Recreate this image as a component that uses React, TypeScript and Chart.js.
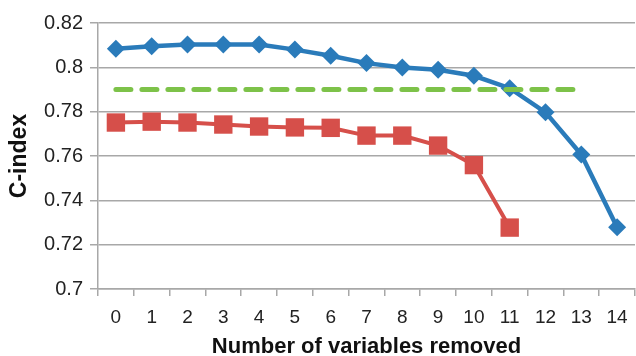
import React, { useEffect, useRef } from "react";
import { Chart, registerables } from "chart.js";

Chart.register(...registerables);

const categories = ["0", "1", "2", "3", "4", "5", "6", "7", "8", "9", "10", "11", "12", "13", "14"];
const blueSeries = [0.8084, 0.8095, 0.8103, 0.8103, 0.8103, 0.8080, 0.8052, 0.8019, 0.7999, 0.7989, 0.7962, 0.7906, 0.7797, 0.7607, 0.7279];
const redSeries = [0.7751, 0.7755, 0.7751, 0.7742, 0.7733, 0.7729, 0.7727, 0.7692, 0.7692, 0.7647, 0.7559, 0.7277];
const greenSeries = [0.79, 0.79, 0.79, 0.79, 0.79, 0.79, 0.79, 0.79, 0.79, 0.79, 0.79, 0.79, 0.79, 0.79];
const yMin = 0.7;
const yMax = 0.82;
const yStep = 0.02;
const xTitle = "Number of variables removed";
const yTitle = "C-index";

const BLUE = "rgb(42,123,186)";
const RED = "rgb(214,79,74)";
const GREEN = "rgb(125,194,73)";
const GRID = "#a8a8a8";
const FONT = "'Liberation Sans', Arial, Helvetica, sans-serif";

export default function App() {
  const ref = useRef<HTMLCanvasElement | null>(null);
  useEffect(() => {
    if (!ref.current) return;
    const chart = new Chart(ref.current, {
      type: "line",
      data: {
        labels: categories,
        datasets: [
          {
            data: greenSeries,
            borderColor: GREEN,
            borderWidth: 5,
            borderDash: [15, 11],
            borderCapStyle: "round",
            pointRadius: 0,
            fill: false,
            order: 0,
          },
          {
            data: blueSeries,
            borderColor: BLUE,
            backgroundColor: BLUE,
            borderWidth: 4.5,
            pointStyle: "rectRot",
            pointRadius: 9,
            pointBorderWidth: 0,
            fill: false,
            order: 1,
          },
          {
            data: redSeries,
            borderColor: RED,
            backgroundColor: RED,
            borderWidth: 4,
            pointStyle: "rect",
            pointRadius: 13,
            pointBorderWidth: 0,
            fill: false,
            order: 2,
          },
        ],
      },
      options: {
        responsive: false,
        animation: false,
        clip: false,
        layout: { autoPadding: false, padding: { top: 23, right: 1, left: 0, bottom: 0 } },
        plugins: { legend: { display: false }, tooltip: { enabled: false } },
        scales: {
          x: {
            offset: true,
            afterFit: (s: any) => {
              s.height = 67;
              s.paddingLeft = 0;
              s.paddingRight = 0;
            },
            grid: {
              offset: true,
              drawOnChartArea: false,
              drawTicks: true,
              tickLength: 7,
              color: GRID,
              lineWidth: 1.5,
            },
            border: { display: true, color: GRID, width: 1.5 },
            ticks: {
              color: "#222",
              font: { family: FONT, size: 19 },
              padding: 10,
              maxRotation: 0,
              autoSkip: false,
            },
            title: {
              display: true,
              text: xTitle,
              color: "#111",
              font: { family: FONT, size: 22, weight: "bold", lineHeight: 0.8 },
              padding: { top: 0, bottom: 0 },
            },
          },
          y: {
            min: yMin,
            max: yMax,
            afterFit: (s: any) => {
              s.width = 98;
              s.paddingTop = 0;
              s.paddingBottom = 0;
            },
            grid: {
              color: GRID,
              lineWidth: 1.5,
              drawTicks: true,
              tickLength: 8,
            },
            border: { display: true, color: GRID, width: 1.5 },
            ticks: {
              stepSize: yStep,
              color: "#222",
              font: { family: FONT, size: 20 },
              padding: 7,
              callback: (v: any) => String(Number(Number(v).toFixed(2))),
            },
            title: {
              display: true,
              text: yTitle,
              color: "#111",
              font: { family: FONT, size: 23, weight: "bold" },
              padding: { top: 6, bottom: 0 },
            },
          },
        },
      },
    });
    return () => chart.destroy();
  }, []);
  return (
    <div style={{ position: "absolute", left: 0, top: 0, width: 636, height: 356 }}>
      <canvas ref={ref} width={636} height={356} style={{ display: "block" }} />
    </div>
  );
}
